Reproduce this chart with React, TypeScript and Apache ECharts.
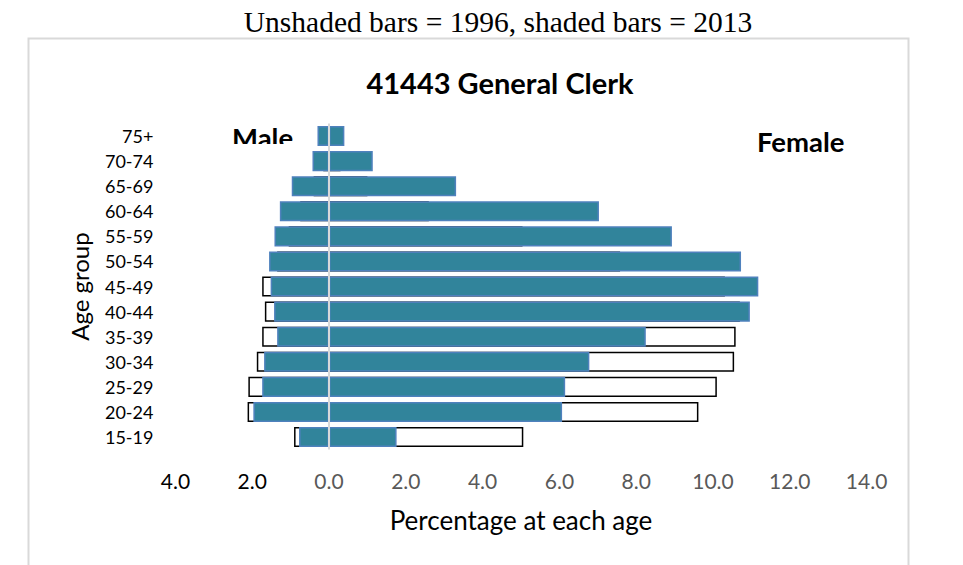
import React, { useEffect, useRef } from "react";
import * as echarts from "echarts";

const ageGroups = ["15-19", "20-24", "25-29", "30-34", "35-39", "40-44", "45-49", "50-54", "55-59", "60-64", "65-69", "70-74", "75+"];
const male1996 = [0.91, 2.12, 2.10, 1.88, 1.74, 1.67, 1.74, 1.35, 1.05, 0.75, 0.40, 0.15, 0.10];
const male2013 = [0.78, 1.97, 1.74, 1.69, 1.35, 1.43, 1.52, 1.56, 1.42, 1.28, 0.97, 0.43, 0.30];
const female1996 = [5.06, 9.62, 10.10, 10.55, 10.59, 10.70, 10.31, 7.58, 5.04, 2.60, 1.00, 0.30, 0.10];
const female2013 = [1.76, 6.07, 6.15, 6.78, 8.25, 10.96, 11.18, 10.73, 8.93, 7.03, 3.31, 1.14, 0.40];

const SANS = "Lato, 'Open Sans', sans-serif";

export default function App() {
  const ref = useRef<HTMLDivElement>(null);
  useEffect(() => {
    if (!ref.current) return;
    const chart = echarts.init(ref.current, null, { renderer: "svg" });
    const unshaded = { color: "#ffffff", borderColor: "#000000", borderWidth: 1.5 };
    const shaded = { color: "#31849B", borderColor: "#4F81BD", borderWidth: 1.5 };
    chart.setOption({
      animation: false,
      backgroundColor: "#ffffff",
      grid: { left: 175.4, right: 96.4, top: 123.5, bottom: 115.4, containLabel: false },
      title: {
        text: "41443 General Clerk",
        left: 495,
        textAlign: "center",
        top: 63,
        textStyle: { fontFamily: SANS, fontWeight: "bold", fontSize: 29, color: "#000" },
      },
      xAxis: {
        type: "value",
        min: -4,
        max: 14,
        interval: 2,
        splitLine: { show: false },
        axisLine: { show: false },
        axisTick: { show: false },
        axisLabel: {
          margin: 20,
          fontFamily: SANS,
          fontSize: 21,
          color: "#595959",
          formatter: (v: number) => (v < 0 ? `{neg|${Math.abs(v).toFixed(1)}}` : v.toFixed(1)),
          rich: { neg: { color: "#000000", fontFamily: SANS, fontSize: 21 } },
        },
        name: "Percentage at each age",
        nameLocation: "middle",
        nameGap: 57,
        nameTextStyle: { fontFamily: SANS, fontSize: 26, color: "#000" },
      },
      yAxis: {
        type: "category",
        data: ageGroups,
        axisLine: { show: false },
        axisTick: { show: false },
        axisLabel: { margin: 22, fontFamily: SANS, fontSize: 18, color: "#000" },
        name: "Age group",
        nameLocation: "middle",
        nameRotate: 90,
        nameGap: 84,
        nameTextStyle: { fontFamily: SANS, fontSize: 24, color: "#000" },
      },
      series: [
        { name: "Male 1996", type: "bar", data: male1996.map((v) => -v), barGap: "-100%", barCategoryGap: "20%", itemStyle: unshaded },
        { name: "Female 1996", type: "bar", data: female1996, barGap: "-100%", barCategoryGap: "20%", itemStyle: unshaded },
        { name: "Male 2013", type: "bar", data: male2013.map((v) => -v), barGap: "-100%", barCategoryGap: "20%", itemStyle: shaded },
        {
          name: "Female 2013",
          type: "bar",
          data: female2013,
          barGap: "-100%",
          barCategoryGap: "20%",
          itemStyle: shaded,
          markLine: {
            silent: true,
            symbol: ["none", "none"],
            label: { show: false },
            lineStyle: { color: "#d9d9d9", width: 2, type: "solid" },
            data: [{ xAxis: 0 }],
          },
        },
      ],
      graphic: [
        {
          type: "rect",
          shape: { x: 28.5, y: 38.5, width: 880, height: 600 },
          style: { fill: "none", stroke: "#d9d9d9", lineWidth: 2 },
          silent: true,
        },
        {
          type: "text",
          x: 498,
          y: 22,
          style: {
            text: "Unshaded bars = 1996, shaded bars = 2013",
            fontFamily: "'Liberation Serif', 'DejaVu Serif', serif",
            fontSize: 29.5,
            fill: "#000",
            textAlign: "center",
            textVerticalAlign: "middle",
          },
        },
        {
          type: "text",
          x: 232,
          y: 137,
          style: { text: "Male", fontFamily: SANS, fontWeight: "bold", fontSize: 27.5, fill: "#000", textAlign: "left", textVerticalAlign: "middle" },
        },
        {
          type: "rect",
          shape: { x: 226, y: 144, width: 80, height: 6 },
          style: { fill: "#ffffff" },
          silent: true,
        },
        {
          type: "text",
          x: 757,
          y: 141,
          style: { text: "Female", fontFamily: SANS, fontWeight: "bold", fontSize: 27.5, fill: "#000", textAlign: "left", textVerticalAlign: "middle" },
        },
      ],
    });
    return () => chart.dispose();
  }, []);
  return <div ref={ref} style={{ position: "fixed", left: 0, top: 0, width: 963, height: 565 }} />;
}
